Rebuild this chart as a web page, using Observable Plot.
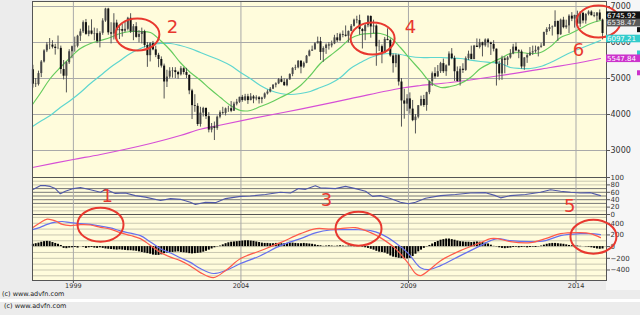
<!DOCTYPE html>
<html><head><meta charset="utf-8">
<script src="https://cdn.jsdelivr.net/npm/d3@7"></script>
<script src="https://cdn.jsdelivr.net/npm/@observablehq/plot@0.6"></script>
<style>
body{margin:0;background:#ececec;width:640px;height:315px;overflow:hidden;position:relative;font-family:"DejaVu Sans",sans-serif;}
.panel{position:absolute;left:0;}
svg{overflow:visible;}
.copy{position:absolute;font-size:6.5px;color:#222;white-space:nowrap;}
#rightbg{position:absolute;left:606px;top:0;width:34px;height:290px;background:#f6f6f6;}
#strip{position:absolute;left:0;top:299px;width:640px;height:3px;background:#ffffff;}
</style></head><body>
<div id="rightbg"></div>
<div id="main" class="panel" style="top:0"></div>
<div id="rsi" class="panel" style="top:177px"></div>
<div id="macd" class="panel" style="top:214px"></div>
<div class="copy" style="left:2px;top:290px">(c) www.advfn.com</div>
<div id="strip"></div>
<div class="copy" style="left:4px;top:302px">(c) www.advfn.com</div>
<script>
// ---- monthly candles, Oct 1997 .. Oct 2014 ----
const firstMonth = [1997, 10];
const opens = [5244,4842,4831,
5136,5458,5767,5932,5928,5870,5833,5837,5249,5064,5438,5743,
5883,5896,6175,6296,6552,6226,6319,6231,6246,6030,6256,6597,
6930,6268,6233,6540,6327,6360,6313,6366,6673,6294,6438,6142,
6223,6298,5918,5634,5967,5796,5643,5529,5345,4903,5040,5204,
5217,5165,5102,5272,5166,5086,4656,4246,4227,3722,4039,4169,
3940,3567,3656,3613,3926,4048,4031,4157,4161,4091,4288,4342,
4477,4390,4492,4386,4489,4431,4464,4413,4459,4571,4624,4703,
4814,4852,4968,4894,4801,4964,5113,5282,5297,5478,5317,5423,
5619,5760,5792,5965,6023,5724,5833,5928,5906,5961,6129,6049,
6221,6203,6172,6308,6450,6621,6608,6360,6303,6467,6722,6432,
6457,5880,5884,5702,6087,6053,5626,5412,5637,4902,4377,4288,
4434,4150,3830,3926,4244,4418,4249,4608,4909,5134,5045,5191,
5413,5189,5355,5680,5553,5188,4917,5258,5225,5549,5675,5528,
5900,5863,5994,5909,6070,5990,5946,5815,5395,5128,5544,5505,
5572,5682,5872,5768,5738,5321,5571,5635,5711,5742,5783,5867,
5898,6277,6361,6412,6430,6583,6215,6621,6413,6462,6731,6651,
6749,6510,6810,6598,6780,6845,6744,6730,6820,6623];
const highs = [5367,5000,5205,
5500,5800,6000,6110,6050,5950,6180,5900,5500,5470,5800,5900,
6150,6200,6370,6600,6640,6460,6630,6400,6380,6300,6660,6950,
6950,6550,6800,6620,6480,6500,6560,6700,6800,6500,6550,6330,
6400,6340,6000,6000,6030,5900,5700,5600,5400,5230,5300,5300,
5300,5200,5330,5300,5280,5100,4700,4550,4300,4200,4200,4180,
4050,3750,3790,3960,4100,4200,4180,4230,4360,4340,4420,4480,
4530,4560,4560,4580,4530,4520,4500,4480,4600,4680,4750,4830,
4880,5000,5060,4990,4980,5130,5300,5370,5500,5500,5460,5640,
5790,5900,6000,6150,6140,5880,5960,6000,6040,6200,6250,6260,
6320,6460,6320,6500,6650,6730,6760,6390,6530,6750,6740,6620,
6490,6060,5930,6140,6380,6100,5680,5680,5670,5000,4700,4550,
4600,4390,4000,4250,4510,4530,4620,4930,5180,5300,5360,5450,
5540,5380,5740,5830,5620,5320,5330,5410,5600,5760,5900,5920,
6100,6090,6010,6100,6110,6010,6050,5820,5480,5620,5600,5610,
5800,5950,5990,5800,5790,5580,5690,5860,5900,5900,5880,5970,
6290,6410,6500,6460,6880,6600,6650,6700,6620,6770,6830,6760,
6870,6860,6840,6800,6880,6880,6830,6830,6905,6650];
const lows = [4733,4750,4790,
5025,5430,5720,5800,5820,5650,5800,5120,4960,4600,5390,5550,
5730,5850,6030,6250,6200,6160,6210,6050,5970,5850,6200,6560,
6200,5960,6070,6050,6080,6150,6270,6320,6250,6050,6120,5990,
5960,5850,5310,5460,5770,5580,5300,5290,4430,4750,4990,5010,
5000,4980,5070,5100,5000,4550,3860,4060,3670,3650,3930,3860,
3490,3490,3277,3560,3880,3990,3960,4060,4050,4090,4240,4310,
4340,4360,4280,4380,4300,4380,4290,4300,4420,4540,4600,4690,
4740,4830,4880,4780,4770,4950,5050,5220,5270,5130,5280,5410,
5600,5750,5800,5960,5500,5450,5670,5790,5850,5940,6000,6020,
6130,6150,5990,6300,6430,6520,6200,5820,6050,6410,6120,6240,
5340,5750,5410,5690,6050,5590,5150,5300,4790,3650,3870,4080,
4010,3800,3460,3880,4220,4200,4090,4550,4780,4980,5030,5140,
5140,5060,5340,5520,4920,4900,4790,5140,5200,5500,5520,5520,
5860,5820,5600,5870,5850,5640,5740,4790,4940,4950,5130,5350,
5540,5660,5740,5550,5260,5230,5420,5610,5640,5700,5600,5840,
5890,6200,6300,6180,6420,6030,6200,6380,6370,6250,6580,6400,
6480,6420,6520,6510,6740,6740,6690,6570,6620,6073];
const closes = [4842,4831,5136,
5458,5767,5932,5928,5870,5833,5837,5249,5064,5438,5743,5883,
5896,6175,6296,6552,6226,6319,6231,6246,6030,6256,6597,6930,
6268,6233,6540,6327,6360,6313,6366,6673,6294,6438,6142,6223,
6298,5918,5634,5967,5796,5643,5529,5345,4903,5040,5204,5217,
5165,5102,5272,5166,5086,4656,4246,4227,3722,4039,4169,3940,
3567,3656,3613,3926,4048,4031,4157,4161,4091,4288,4342,4477,
4390,4492,4386,4489,4431,4464,4413,4459,4571,4624,4703,4814,
4852,4968,4894,4801,4964,5113,5282,5297,5478,5317,5423,5619,
5760,5792,5965,6023,5724,5833,5928,5906,5961,6129,6049,6221,
6203,6172,6308,6450,6621,6608,6360,6303,6467,6722,6432,6457,
5880,5884,5702,6087,6053,5626,5412,5637,4902,4377,4288,4434,
4150,3830,3926,4244,4418,4249,4608,4909,5134,5045,5191,5413,
5189,5355,5680,5553,5188,4917,5258,5225,5549,5675,5528,5900,
5863,5994,5909,6070,5990,5946,5815,5395,5128,5544,5505,5572,
5682,5872,5768,5738,5321,5571,5635,5711,5742,5783,5867,5898,
6277,6361,6412,6430,6583,6215,6621,6413,6462,6731,6651,6749,
6510,6810,6598,6780,6845,6744,6730,6820,6623,6250];
// MACD histogram, one value per month (same months as candles)
const histogram = [40,50,60,75,85,90,85,70,55,40,20,
-30,-35,-25,-20,
-15,-25,0,-10,-30,-20,-15,-25,-30,-20,
-30,-40,-45,-50,-55,-60,-55,-60,-65,-70,-70,-75,-80,-90,-100,-110,-120,-130,
-145,-150,-150,-140,-120,-110,-100,-100,-95,
-90,-100,-105,-110,
-120,-125,-120,-115,-110,
-95,-80,-60,-40,-20,
-5,10,30,
50,65,75,80,85,
90,95,100,100,95,90,80,70,
60,55,55,50,50,55,55,50,
50,55,60,60,55,50,50,55,50,45,40,30,
20,15,5,10,15,10,5,10,15,10,5,10,15,10,5,0,-10,-20,-30,-45,
-60,-80,-95,-100,-110,-130,-160,-180,-190,
-200,-205,-210,-210,-200,-170,
-130,-90,-60,-30,-5,
20,45,70,90,110,120,130,130,120,110,95,85,
80,75,75,70,75,80,75,70,60,45,
25,5,-5,
-20,-30,-35,-30,-25,
-15,-10,-20,-15,-10,-20,-15,-10,-15,-5,10,25,
40,50,55,55,50,45,40,30,20,
15,10,10,5,0,-5,-10,
-20,-30,-40,-45,-40];

// ---- moving averages (decimal years) ----
const maYears = [1997.78,1998.01,1998.31,1998.61,1998.91,1999.21,1999.51,1999.81,2000.10,2000.40,2000.70,2001.00,2001.30,2001.60,2001.90,2002.19,2002.49,2002.79,2003.09,2003.39,2003.69,2003.99,2004.28,2004.58,2004.88,2005.18,2005.48,2005.78,2006.07,2006.37,2006.67,2006.97,2007.27,2007.57,2007.87,2008.16,2008.46,2008.76,2009.06,2009.36,2009.66,2009.96,2010.25,2010.55,2010.85,2011.15,2011.45,2011.75,2012.04,2012.34,2012.64,2012.94,2013.24,2013.54,2013.84,2014.13,2014.43,2014.73];
const greenMA = [4278,4583,5000,5306,5583,5833,5972,6056,6139,6250,6306,6306,6278,6056,5778,5444,5167,4950,4700,4472,4250,4111,4111,4222,4333,4472,4611,4806,5083,5417,5639,5861,6111,6222,6250,6250,6139,5861,5530,5220,4889,4750,4778,4861,5028,5278,5430,5560,5694,5722,5694,5722,5889,6139,6250,6389,6528,6611];
const cyanMA = [3667,3806,3972,4194,4389,4611,4861,5083,5306,5500,5694,5833,5944,5972,5972,5917,5833,5722,5611,5500,5361,5167,5000,4806,4667,4583,4556,4583,4639,4750,4861,5028,5278,5444,5583,5667,5694,5667,5611,5583,5583,5583,5570,5556,5510,5472,5445,5417,5306,5278,5278,5333,5444,5583,5722,5833,5944,6056];
const magentaYears = [1997.78,1999.0,1999.81,2001.3,2002.19,2002.79,2003.33,2004.28,2005.78,2007.27,2008.76,2009.36,2010.25,2011.75,2013.24,2014.13,2014.73];
const magentaMA = [2528,2750,2889,3194,3417,3590,3694,3880,4150,4440,4730,4806,4889,5083,5306,5444,5556];

// ---- RSI ----
const rsiYears = [1997.78,1998.01,1998.16,1998.31,1998.46,1998.61,1998.76,1999.0,1999.21,1999.51,1999.81,1999.96,2000.25,2000.55,2000.85,2001.15,2001.6,2001.9,2002.19,2002.49,2002.64,2002.94,2003.24,2003.54,2003.99,2004.28,2004.73,2005.18,2005.48,2005.72,2005.93,2006.22,2006.37,2006.82,2007.12,2007.42,2007.72,2007.93,2008.16,2008.46,2008.76,2009.0,2009.21,2009.51,2009.96,2010.4,2010.85,2011.3,2011.6,2011.75,2012.04,2012.49,2012.94,2013.24,2013.54,2013.84,2014.13,2014.43,2014.73];
const rsiValues = [67,78,78,76,70,56,63,70,73,67,60,68,57,58,51,47,38,43,41,33,27,33,32,43,49,50,54,60,58,70,68,78,72,70,76,70,63,49,51,43,33,29,33,44,51,54,58,59,51,45,51,54,60,67,63,60,58,59,51];

// ---- MACD lines ----
const macdYears = [1997.78,1998.01,1998.22,1998.46,1998.67,1998.91,1999.21,1999.51,1999.81,2000.10,2000.40,2000.70,2001.00,2001.30,2001.60,2001.90,2002.19,2002.49,2002.79,2003.18,2003.54,2003.99,2004.58,2005.18,2005.78,2006.25,2006.67,2006.97,2007.42,2007.87,2008.16,2008.61,2009.00,2009.21,2009.36,2009.60,2009.96,2010.55,2011.15,2011.45,2011.66,2012.04,2012.64,2013.09,2013.54,2014.13,2014.43,2014.73];
const macdLine = [325,410,470,440,380,360,375,370,330,300,240,190,137,20,-100,-180,-240,-330,-445,-530,-410,-205,-70,68,222,308,300,308,325,240,154,-34,-290,-460,-496,-410,-240,-68,68,137,137,85,68,137,222,240,222,154];
const signalLine = [290,330,380,420,430,410,395,380,350,320,270,230,188,80,-35,-110,-190,-270,-375,-460,-410,-290,-155,17,137,240,285,290,290,274,222,68,-120,-273,-360,-393,-325,-154,17,103,137,103,85,103,188,222,222,205];

// ---- axes / labels ----
const yearTicks = [1999, 2004, 2009, 2014];
const priceTicks = [3000, 4000, 5000, 6000, 7000];
const rsiTicks = [0, 20, 40, 60, 80, 100];
const macdTicks = [-400, -200, 0, 200, 400];
const lastLabels = [
  {value: 6745.92, text: "6745.92", bg: "#111111", fg: "#ffffff"},
  {value: 6538.47, text: "6538.47", bg: "#5a5a5a", fg: "#eeeeee"},
  {value: 6097.21, text: "6097.21", bg: "#33cccc", fg: "#ffffff"},
  {value: 5547.84, text: "5547.84", bg: "#cc33cc", fg: "#ffffff"}
];
// annotations
const priceCircles = [{t: 2000.91, v: 6222}, {t: 2007.93, v: 6111}, {t: 2014.67, v: 6583}];
const priceNumbers = [{t: 2001.96, v: 6417, n: "2"}, {t: 2009.06, v: 6417, n: "4"}, {t: 2014.07, v: 5778, n: "6"}];
const macdCircles = [{t: 1999.81, v: 376}, {t: 2007.51, v: 308}, {t: 2014.52, v: 171}];
const rsiNumbers = [{t: 2000.01, v: 49, n: "1"}, {t: 2006.55, v: 38, n: "3"}, {t: 2013.81, v: 22, n: "5"}];

// ---- build ----
const xDomain = [1997.78, 2014.91];
const RED = "#e8382f";
const candles = closes.map((c, i) => ({
  t: firstMonth[0] + (firstMonth[1] - 1 + i + 0.5) / 12,
  o: opens[i], h: highs[i], l: lows[i], c, hist: histogram[i]
}));
const green = maYears.map((t, i) => ({t, v: greenMA[i]}));
const cyan = maYears.map((t, i) => ({t, v: cyanMA[i]}));
const magenta = magentaYears.map((t, i) => ({t, v: magentaMA[i]}));
const rsi = rsiYears.map((t, i) => ({t, v: rsiValues[i]}));
const macd = macdYears.map((t, i) => ({t, m: macdLine[i], s: signalLine[i]}));

function ellipse(rx, ry) {
  return {draw(ctx) {
    const kx = rx * 0.5523, ky = ry * 0.5523;
    ctx.moveTo(rx, 0);
    ctx.bezierCurveTo(rx, ky, kx, ry, 0, ry);
    ctx.bezierCurveTo(-kx, ry, -rx, ky, -rx, 0);
    ctx.bezierCurveTo(-rx, -ky, -kx, -ry, 0, -ry);
    ctx.bezierCurveTo(kx, -ry, rx, -ky, rx, 0);
    ctx.closePath();
  }};
}
const common = {width: 640, marginLeft: 32, marginRight: 34,
  style: {background: "transparent", fontFamily: "DejaVu Sans", color: "#333", overflow: "visible"}};
const BG = "#fffcdc";
const GRID = "#a9a9a9";
const BORDER = "#555";

const main = Plot.plot({
  ...common, height: 178, marginTop: 1, marginBottom: 1,
  x: {domain: xDomain, axis: null},
  y: {domain: [2250, 7139], axis: null},
  marks: [
    Plot.frame({fill: BG, stroke: null}),
    Plot.gridY(priceTicks, {stroke: GRID, strokeOpacity: 1}),
    Plot.gridX(yearTicks, {stroke: GRID, strokeOpacity: 1}),
    Plot.line(magenta, {x: "t", y: "v", stroke: "#d64fd6", strokeWidth: 1.2, curve: "catmull-rom"}),
    Plot.line(cyan, {x: "t", y: "v", stroke: "#5fd6cf", strokeWidth: 1.2, curve: "catmull-rom"}),
    Plot.line(green, {x: "t", y: "v", stroke: "#66cc5e", strokeWidth: 1.2, curve: "catmull-rom"}),
    Plot.ruleX(candles, {x: "t", y1: "l", y2: "h", stroke: "#555", strokeWidth: 1}),
    Plot.ruleX(candles.filter(d => d.c >= d.o), {x: "t", y1: "o", y2: "c", stroke: "#4a4a4a", strokeWidth: 2}),
    Plot.ruleX(candles.filter(d => d.c < d.o), {x: "t", y1: "o", y2: "c", stroke: "#111", strokeWidth: 2}),
    Plot.axisY(priceTicks, {anchor: "right", label: null, tickSize: 3, tickPadding: 1, fontSize: 8, tickFormat: d3.format("d"), stroke: "#555"}),
    Plot.frame({stroke: BORDER}),
    Plot.dot(priceCircles, {x: "t", y: "v", symbol: ellipse(22, 16), stroke: RED, strokeWidth: 2, fill: "none"}),
    Plot.text(priceNumbers, {x: "t", y: "v", text: "n", fill: RED, fontSize: 18})
  ]
});
document.getElementById("main").append(main);

// value labels at right edge
{
  const ys = main.scale("y"), xs = main.scale("x");
  const x0 = xs.apply(xDomain[1]);
  const g = d3.select(main).append("g").attr("font-family", "DejaVu Sans").attr("font-size", 7).attr("text-anchor", "start");
  for (const L of lastLabels) {
    const y = ys.apply(L.value);
    g.append("rect").attr("x", x0).attr("y", y - 3.8).attr("width", 640 - x0).attr("height", 7.6).attr("fill", L.bg);
    g.append("text").attr("x", x0 + 1).attr("y", y + 2.5).attr("fill", L.fg).attr("text-anchor", "start").text(L.text);
    if (L.bg !== "#5a5a5a")
      g.append("rect").attr("x", 637).attr("y", y + 12).attr("width", 3).attr("height", 5).attr("fill", L.bg);
  }
}

const rsiPlot = Plot.plot({
  ...common, height: 38, marginTop: 0, marginBottom: 1,
  x: {domain: xDomain, axis: null},
  y: {domain: [0, 100], axis: null},
  marks: [
    Plot.frame({fill: BG, stroke: null}),
    Plot.gridY([10, 20, 80, 90], {stroke: "#c9c7b0", strokeOpacity: 1}),
    Plot.gridY([30, 40, 50, 60, 70], {stroke: "#777", strokeOpacity: 1}),
    Plot.gridX(yearTicks, {stroke: GRID, strokeOpacity: 1}),
    Plot.line(rsi, {x: "t", y: "v", stroke: "#5058a8", strokeWidth: 1.1}),
    Plot.axisY(rsiTicks, {anchor: "right", label: null, tickSize: 3, tickPadding: 1, fontSize: 7, stroke: "#555"}),
    Plot.frame({stroke: BORDER}),
    Plot.text(rsiNumbers, {x: "t", y: "v", text: "n", fill: RED, fontSize: 18})
  ]
});
document.getElementById("rsi").append(rsiPlot);

const macdPlot = Plot.plot({
  ...common, height: 80, marginTop: 0, marginBottom: 14,
  x: {domain: xDomain, label: null},
  y: {domain: [-580, 550], axis: null},
  marks: [
    Plot.frame({fill: BG, stroke: null}),
    Plot.gridY([-500, -400, -300, -200, -100, 0, 100, 200, 300, 400, 500], {stroke: "#c9c7b0", strokeOpacity: 1}),
    Plot.gridX(yearTicks, {stroke: GRID, strokeOpacity: 1}),
    Plot.ruleX(candles, {x: "t", y1: 0, y2: "hist", stroke: "#000", strokeWidth: 2}),
    Plot.line(macd, {x: "t", y: "s", stroke: "#6670ee", strokeWidth: 1.2, curve: "catmull-rom"}),
    Plot.line(macd, {x: "t", y: "m", stroke: "#ff5a4a", strokeWidth: 1.2, curve: "catmull-rom"}),
    Plot.axisY(macdTicks, {anchor: "right", label: null, tickSize: 3, tickPadding: 1, fontSize: 7, stroke: "#555"}),
    Plot.axisX(yearTicks, {anchor: "bottom", label: null, tickSize: 3, tickPadding: 0, fontSize: 6.5, tickFormat: d3.format("d"), stroke: "#555"}),
    Plot.frame({stroke: BORDER}),
    Plot.dot(macdCircles, {x: "t", y: "v", symbol: ellipse(23, 17), stroke: RED, strokeWidth: 2, fill: "none"})
  ]
});
document.getElementById("macd").append(macdPlot);
</script>
</body></html>
